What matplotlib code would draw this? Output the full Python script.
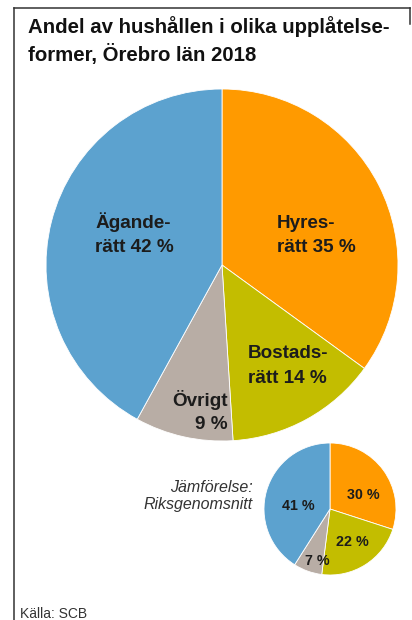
import matplotlib
matplotlib.use("Agg")
import matplotlib.pyplot as plt

# data
categories = ["Hyresrätt", "Bostadsrätt", "Övrigt", "Äganderätt"]
orebro_pct = [35, 14, 9, 42]
riket_pct = [30, 22, 7, 41]
colors = ["#FF9A00", "#C3BD00", "#B8ADA5", "#5CA2CF"]

W, H = 412, 620
TXT = "#1c1c1c"
plt.rcParams["font.family"] = ["Liberation Sans", "DejaVu Sans"]


def Y(y):
    # pixel row (top-down) -> axes y (bottom-up)
    return H - y


def lines(ax, x, ys, texts, **kw):
    for y, t in zip(ys, texts):
        ax.text(x, Y(y), t, va="baseline", **kw)


fig = plt.figure(figsize=(W / 100, H / 100), dpi=100)
ax = fig.add_axes([0, 0, 1, 1])

# frame
ax.plot([14, 14], [Y(8), Y(H + 5)], color="#333333", lw=1.1, clip_on=False)
ax.plot([14, 410], [Y(8), Y(8)], color="#333333", lw=1.1)
ax.plot([410, 410], [Y(8), Y(24)], color="#333333", lw=1.1)

# title
lines(ax, 28, [33, 61], ["Andel av hushållen i olika upplåtelse-",
                         "former, Örebro län 2018"],
      fontsize=14.7, fontweight="bold", color="#111111")

wp = dict(edgecolor="white", linewidth=0.6)
ax.pie(orebro_pct, colors=colors, startangle=90, counterclock=False,
       center=(222, Y(265)), radius=176, wedgeprops=wp, frame=True)
ax.pie(riket_pct, colors=colors, startangle=90, counterclock=False,
       center=(330, Y(509)), radius=66, wedgeprops=wp, frame=True)
ax.set_xlim(0, W)
ax.set_ylim(0, H)
ax.axis("off")

lab = dict(fontsize=13.6, fontweight="bold", color=TXT)
lines(ax, 277, [228, 252], ["Hyres-", f"rätt {orebro_pct[0]} %"], ha="left", **lab)
lines(ax, 95, [228, 252], ["Ägande-", f"rätt {orebro_pct[3]} %"], ha="left", **lab)
lines(ax, 248, [358, 383], ["Bostads-", f"rätt {orebro_pct[1]} %"], ha="left", **lab)
lines(ax, 228, [406, 429], ["Övrigt", f"{orebro_pct[2]} %"], ha="right", **lab)

small = dict(fontsize=10.3, fontweight="bold", color=TXT, ha="center")
lines(ax, 363, [499], [f"{riket_pct[0]} %"], **small)
lines(ax, 352, [546], [f"{riket_pct[1]} %"], **small)
lines(ax, 317, [565], [f"{riket_pct[2]} %"], **small)
lines(ax, 298, [510], [f"{riket_pct[3]} %"], **small)

lines(ax, 253, [492, 509], ["Jämförelse:", "Riksgenomsnitt"],
      ha="right", fontsize=11.5, fontstyle="italic", color="#333333")

ax.text(20, Y(618), "Källa: SCB", fontsize=10, color="#333333",
        va="baseline")

fig.savefig("out.png", dpi=100)
